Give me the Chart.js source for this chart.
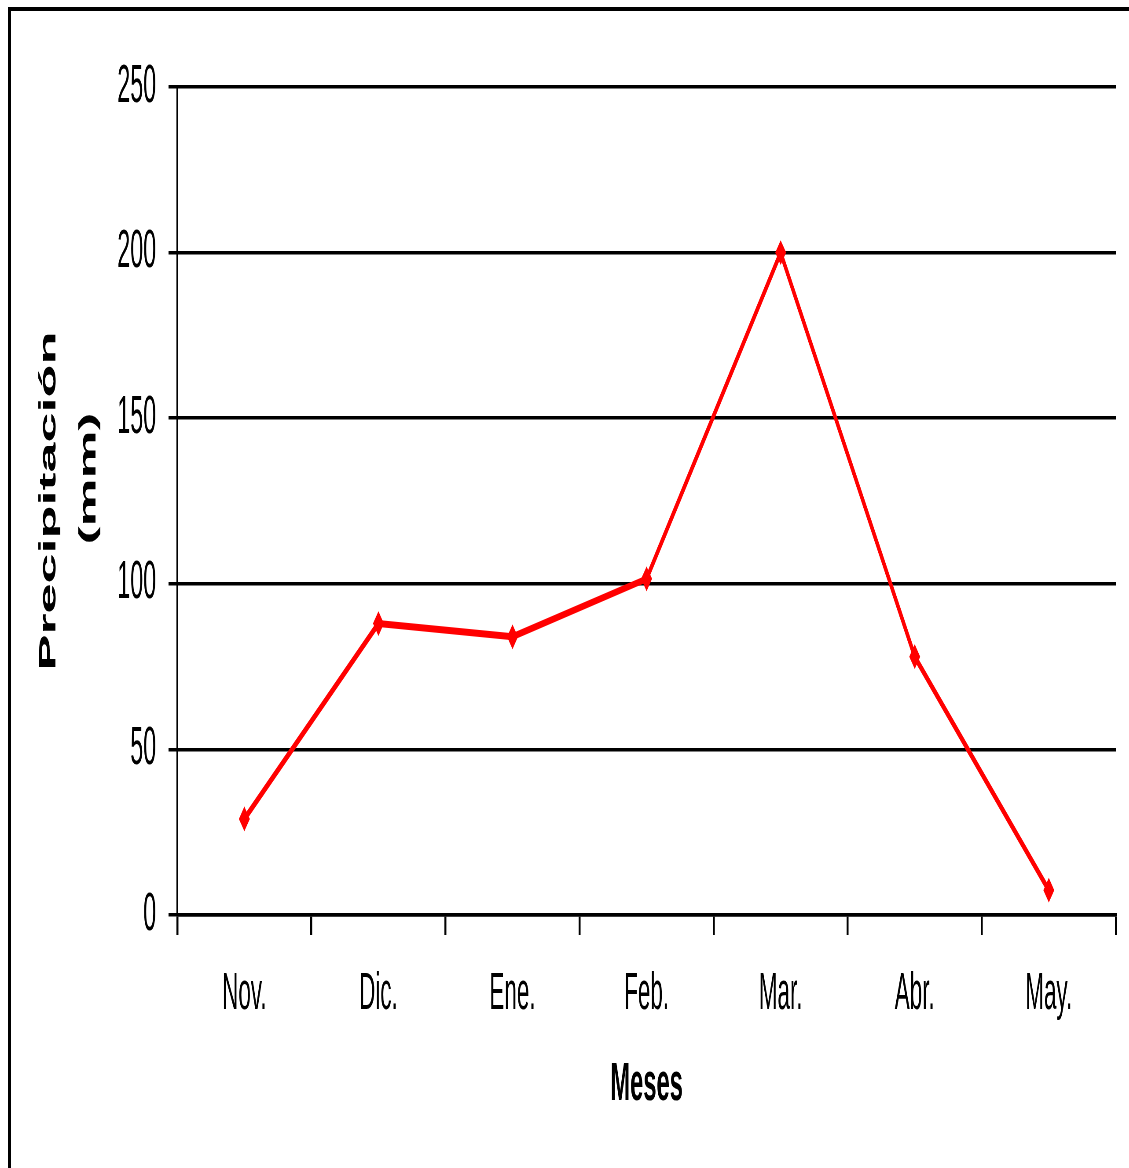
<!DOCTYPE html>
<html lang="es">
<head>
<meta charset="utf-8">
<title>Precipitación mensual</title>
<script src="https://cdn.jsdelivr.net/npm/chart.js@4.4.1/dist/chart.umd.min.js"></script>
<style>
  html, body { margin: 0; padding: 0; background: #ffffff; overflow: hidden; }
  body { width: 1129px; height: 1168px; position: relative; }
  /* chart frame, cut off on the right and bottom */
  #frame {
    position: absolute; left: 8px; top: 7px; width: 1300px; height: 1300px;
    border-top: 4px solid #000; border-left: 3px solid #000; box-sizing: border-box;
    pointer-events: none; z-index: 2;
  }
  /* the chart is drawn wide and narrowed horizontally, giving the condensed lettering */
  #wrap {
    position: absolute; left: 0; top: 0; width: 2566px; height: 1168px;
    transform: scaleX(0.44); transform-origin: 0 0;
  }
  canvas { display: block; }
</style>
</head>
<body>
<div id="wrap"><canvas id="c" width="2566" height="1168"></canvas></div>
<div id="frame"></div>
<script>
// Months of the rainy season
const months = ['Nov.', 'Dic.', 'Ene.', 'Feb.', 'Mar.', 'Abr.', 'May.'];
// Monthly rainfall (mm)
const rainfall = [29, 88, 84, 101.5, 200, 78, 7.5];
// Y axis range and step
const yTicks = [0, 50, 100, 150, 200, 250];

// second line is padded at its start so it sits a little higher than the first
const yTitle = ['Precipitación', '\u00a0\u00a0\u00a0(mm)'];
const xTitle = 'Meses';

const FONT = "'Liberation Sans', Arial, Helvetica, sans-serif";

new Chart(document.getElementById('c'), {
  type: 'line',
  data: {
    labels: months,
    datasets: [{
      data: rainfall,
      borderColor: '#ff0000',
      backgroundColor: '#ff0000',
      borderWidth: 7,
      tension: 0,
      pointStyle: 'rectRot',
      pointRadius: 11,
      pointBorderWidth: 2,
      pointBackgroundColor: '#ff0000',
      pointBorderColor: '#ff0000',
      clip: false
    }]
  },
  options: {
    responsive: false,
    animation: false,
    devicePixelRatio: 1,
    layout: { padding: { left: 0, right: 30, top: 87, bottom: 0 } },
    plugins: { legend: { display: false }, tooltip: { enabled: false } },
    scales: {
      x: {
        type: 'category',
        offset: true,
        afterFit: (s) => { s.height = 253; },
        grid: {
          offset: true,
          drawOnChartArea: false,
          drawTicks: true,
          tickLength: 20,
          lineWidth: 4.5,
          color: '#000'
        },
        border: { display: true, color: '#000', width: 3.5 },
        ticks: {
          color: '#000',
          padding: 29,
          maxRotation: 0,
          font: { family: FONT, size: 51 }
        },
        title: {
          display: true,
          text: xTitle,
          color: '#000',
          padding: { top: 0, bottom: 50 },
          font: { family: FONT, size: 54, weight: 'bold' }
        }
      },
      y: {
        min: yTicks[0],
        max: yTicks[yTicks.length - 1],
        afterFit: (s) => { s.width = 403; },
        afterBuildTicks: (s) => { s.ticks = yTicks.map(v => ({ value: v })); },
        grid: {
          drawTicks: true,
          tickLength: 20,
          lineWidth: 3.5,
          color: '#000'
        },
        border: { display: true, color: '#000', width: 4 },
        ticks: {
          color: '#000',
          padding: 28,
          font: { family: FONT, size: 53 }
        },
        title: {
          display: true,
          text: yTitle,
          color: '#000',
          padding: { top: 65, bottom: 0 },
          font: { family: FONT, size: 54, weight: 'bold', lineHeight: 1.69 }
        }
      }
    }
  }
});
</script>
</body>
</html>
